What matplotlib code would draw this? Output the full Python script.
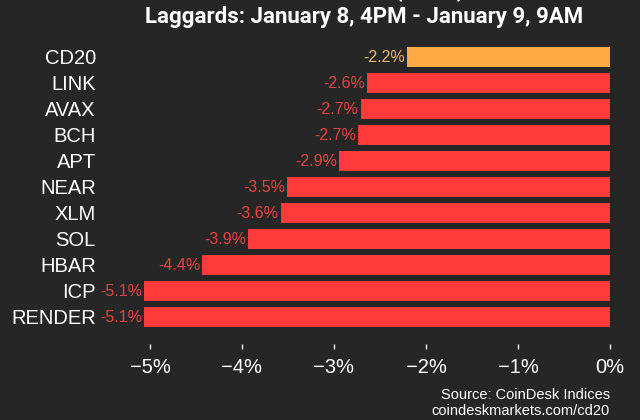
import matplotlib as mpl
import matplotlib.pyplot as plt
from matplotlib.ticker import FuncFormatter

mpl.rcParams.update({
    "font.family": ["Liberation Sans", "DejaVu Sans"],
    "figure.facecolor": "#262626",
    "axes.facecolor": "#262626",
})

# coins, top to bottom, % change
coins = ["CD20", "LINK", "AVAX", "BCH", "APT", "NEAR", "XLM", "SOL", "HBAR", "ICP", "RENDER"]
changes = [-2.21, -2.64, -2.71, -2.74, -2.94, -3.51, -3.58, -3.93, -4.43, -5.06, -5.06]
xticks = [-5, -4, -3, -2, -1, 0]

bg = "#262626"
red = "#ff3a3a"
orange = "#ffaa45"

fig = plt.figure(figsize=(6.4, 4.2), dpi=100)
ax = fig.add_axes([100 / 640, 1 - 330 / 420, 510 / 640, 286 / 420])

colors = [orange if c == "CD20" else red for c in coins]
rows = list(range(len(coins)))
ax.barh(rows, changes, height=0.8, color=colors)

for r, v, c in zip(rows, changes, coins):
    col = "#f0b565" if c == "CD20" else "#e8423f"
    ax.annotate(f"{v:.1f}%", (v, r), xytext=(-1.5, 0), textcoords="offset points",
                ha="right", va="center", color=col, fontsize=11.5)

ax.set_xlim(-5.543, 0)
ax.set_ylim(len(coins) - 0.5, -0.5)
ax.set_yticks(rows)
ax.set_yticklabels(coins)
ax.set_xticks(xticks)
ax.xaxis.set_major_formatter(FuncFormatter(lambda x, p: f"{x:.0f}%".replace("-", "\u2212")))

for s in ax.spines.values():
    s.set_visible(False)
ax.spines["bottom"].set_position(("outward", 10))
ax.tick_params(axis="y", length=0, pad=3, labelsize=14.5, labelcolor="white")
ax.tick_params(axis="x", length=3.5, width=1, color="white", direction="out",
               pad=7, labelsize=14.5, labelcolor="white")

title_font = ["Liberation Sans Narrow", "Roboto", "DejaVu Sans"]
# first title line sits mostly above the top edge, as in the original crop
fig.text(0.569, 1 + 9 / 420, "CoinDesk 20 (CD20)", ha="center", va="center",
         color="white", fontsize=16, fontweight="bold", family=title_font)
fig.text(0.569, 1 - 17 / 420, "Laggards: January 8, 4PM - January 9, 9AM", ha="center",
         va="center", color="white", fontsize=16, fontweight="bold", family=title_font)

fig.text(610 / 640, 1 - 395 / 420, "Source: CoinDesk Indices", ha="right", va="center",
         color="white", fontsize=10.5)
fig.text(610 / 640, 1 - 411 / 420, "coindeskmarkets.com/cd20", ha="right", va="center",
         color="white", fontsize=10.5)

fig.savefig("out.png", dpi=100, facecolor=bg)
